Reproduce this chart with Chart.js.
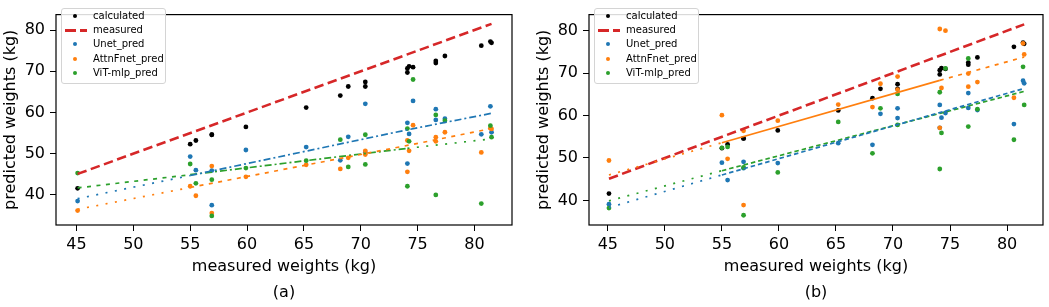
<!DOCTYPE html>
<html><head><meta charset="utf-8">
<script src="https://cdn.jsdelivr.net/npm/chart.js@4/dist/chart.umd.min.js"></script>
<style>
html,body{margin:0;padding:0;background:#fff}
body{width:1049px;height:307px;overflow:hidden;position:relative;font-family:"DejaVu Sans",sans-serif}
canvas{position:absolute;top:0}
#ca{left:0}
#cb{left:525px}
.legend{position:absolute;width:105px;height:76px;border:1px solid #d4d4d4;border-radius:3px;background:rgba(255,255,255,0.85);box-sizing:border-box;font:10px "DejaVu Sans",sans-serif;color:#000}
.row{position:absolute;left:31px;height:14px;line-height:14px;white-space:nowrap}
.dot{position:absolute;left:-20px;top:5px;width:4px;height:4px;border-radius:50%}
.dsh{position:absolute;top:6px;height:2.6px;background:#d62728}
</style></head>
<body>
<canvas id="ca" width="525" height="307"></canvas>
<canvas id="cb" width="524" height="307"></canvas>
<div class="legend" style="left:61px;top:8px">
 <div class="row" style="top:0px"><span class="dot" style="background:#000"></span>calculated</div>
 <div class="row" style="top:14px"><span class="dsh" style="left:-28px;width:11px"></span><span class="dsh" style="left:-13px;width:7px"></span>measured</div>
 <div class="row" style="top:28px"><span class="dot" style="background:#1f77b4"></span>Unet_pred</div>
 <div class="row" style="top:43px"><span class="dot" style="background:#ff7f0e"></span>AttnFnet_pred</div>
 <div class="row" style="top:57px"><span class="dot" style="background:#2ca02c"></span>ViT-mlp_pred</div>
</div>
<div class="legend" style="left:594px;top:8px">
 <div class="row" style="top:0px"><span class="dot" style="background:#000"></span>calculated</div>
 <div class="row" style="top:14px"><span class="dsh" style="left:-28px;width:11px"></span><span class="dsh" style="left:-13px;width:7px"></span>measured</div>
 <div class="row" style="top:28px"><span class="dot" style="background:#1f77b4"></span>Unet_pred</div>
 <div class="row" style="top:43px"><span class="dot" style="background:#ff7f0e"></span>AttnFnet_pred</div>
 <div class="row" style="top:57px"><span class="dot" style="background:#2ca02c"></span>ViT-mlp_pred</div>
</div>
<script>
// ---- data ----
const measured   = [45.1, 55.0, 55.5, 56.9, 56.9, 59.9, 65.2, 68.2, 68.9, 70.4, 70.4, 74.1, 74.1, 74.25, 74.6, 76.6, 76.6, 77.4, 80.6, 81.4, 81.5];
const calculated = [41.6, 52.3, 53.2, 54.6, 54.6, 56.5, 61.2, 64.1, 66.3, 66.3, 67.4, 69.7, 70.7, 71.2, 71.0, 72.5, 72.0, 73.7, 76.2, 77.2, 76.9];

const unetA = [38.5, 49.3, 46.0, 45.9, 37.5, 50.9, 51.6, 48.4, 54.1, 62.1, 50.3, 57.5, 47.6, 54.8, 62.8, 60.8, 58.2, 58.5, 54.7, 61.5, 55.2];
const attnA = [36.2, 42.1, 39.8, 47.0, 35.6, 44.4, 47.3, 46.3, 49.0, 50.7, 49.8, 53.2, 45.6, 50.7, 56.9, 53.0, 54.0, 55.2, 50.3, 56.2, 56.0];
const vitA  = [45.3, 47.5, 42.8, 43.7, 34.9, 46.5, 48.3, 53.4, 46.8, 54.6, 47.4, 56.1, 42.1, 53.0, 68.0, 59.4, 40.0, 58.0, 37.9, 56.8, 54.0];

const unetB = [39.1, 48.9, 44.8, 49.1, 47.6, 48.8, 53.5, 53.1, 60.4, 61.7, 59.4, 62.5, 57.1, 59.5, 60.6, 65.3, 61.8, 61.3, 58.0, 68.2, 67.6];
const attnB = [49.4, 60.1, 49.8, 56.4, 38.9, 58.8, 62.6, 62.0, 67.5, 69.2, 66.1, 80.4, 57.1, 66.5, 80.0, 69.9, 66.8, 67.9, 64.2, 77.0, 74.4];
const vitB  = [38.2, 52.4, 52.6, 47.75, 36.5, 46.6, 58.5, 51.1, 61.7, 65.1, 57.8, 65.5, 47.4, 55.9, 71.1, 73.45, 57.4, 61.5, 54.3, 71.5, 62.5];

// identity (measured) line endpoints
const idLine = [45.1, 81.5];

// fitted trend lines, read at these x positions
const fitX = [45.1, 55.0, 74.1, 81.5];
const fitUnetA = [39.1, 44.7, 55.8, 59.8];
const fitAttnA = [36.5, 41.8, 52.0, 56.1];
const fitVitA  = [41.7, 44.9, 51.3, 53.6];
const fitUnetB = [38.3, 46.0, 60.7, 66.4];
const fitAttnB = [46.0, 53.6, 68.3, 73.8];
const fitVitB  = [39.9, 47.0, 60.5, 65.7];

const xTicks = [45, 50, 55, 60, 65, 70, 75, 80];
const yTicks = [40, 50, 60, 70, 80];
const panelLabels = ['(a)', '(b)'];

// ---- styling ----
const C = {black:'#000000', red:'#d62728', blue:'#1f77b4', orange:'#ff7f0e', green:'#2ca02c'};
const DOT = [2, 7.5], DASH = [4, 5.5], DASHDOT = [7, 3, 2, 3], SOLID = [], DASHB = [4.5, 3];

Chart.defaults.font.family = '"DejaVu Sans", sans-serif';
Chart.defaults.color = '#000';

const pts = (xs, ys) => xs.map((x, i) => ({x, y: ys[i]}));

function scatterDs(ys, color){
  return {type:'scatter', data: pts(measured, ys), backgroundColor: color, borderWidth: 0, pointRadius: 2.4, pointHoverRadius: 2.4};
}
function fitDs(ys, color, styles){
  return {type:'line', data: pts(fitX, ys), borderColor: color, borderWidth: 1.7, pointRadius: 0, fill:false, tension:0,
    segment: {borderDash: ctx => styles[ctx.p0DataIndex]}};
}

const frame = {id:'frame', afterDatasetsDraw(c){
  const a = c.chartArea, g = c.ctx;
  g.save(); g.strokeStyle = '#000'; g.lineWidth = 1.2;
  g.strokeRect(a.left, a.top, a.right - a.left, a.bottom - a.top);
  g.restore();
}};

function makePanel(id, p){
  const datasets = [
    fitDs(p.fits[0], C.blue, p.styles[0]),
    fitDs(p.fits[1], C.orange, p.styles[1]),
    fitDs(p.fits[2], C.green, p.styles[2]),
    {type:'line', data: pts(idLine, idLine), borderColor: C.red, borderWidth: 2.6, borderDash:[9.5, 4.5], pointRadius: 0, fill:false},
    scatterDs(p.vit, C.green),
    scatterDs(p.attn, C.orange),
    scatterDs(p.unet, C.blue),
    scatterDs(calculated, C.black)
  ];
  return new Chart(document.getElementById(id), {
    type: 'scatter',
    data: {datasets},
    plugins: [frame],
    options: {
      responsive: false, animation: false, devicePixelRatio: 1,
      layout: {padding: {left: 0, top: 3, right: p.padRight, bottom: 0}},
      plugins: {legend: {display: false}, tooltip: {enabled: false}},
      scales: {
        x: {
          type: 'linear', min: p.xmin, max: p.xmax,
          afterBuildTicks: s => { s.ticks = xTicks.map(v => ({value: v})); },
          afterFit: s => { s.height = 82; },
          grid: {drawOnChartArea: false, drawTicks: true, tickLength: 6, color: '#000', lineWidth: 1},
          border: {display: false},
          ticks: {font: {size: 16}, padding: 4, color: '#000', maxRotation: 0, autoSkip: false},
          title: {display: true, text: ['measured weights (kg)', p.label], font: {size: 16, lineHeight: 1.625}, padding: {top: 0, bottom: 1}, color: '#000'}
        },
        y: {
          type: 'linear', min: p.ymin, max: p.ymax,
          afterBuildTicks: s => { s.ticks = yTicks.map(v => ({value: v})); },
          afterFit: s => { s.width = p.yWidth; },
          grid: {drawOnChartArea: false, drawTicks: true, tickLength: 6, color: '#000', lineWidth: 1},
          border: {display: false},
          ticks: {font: {size: 16}, padding: 5, color: '#000', autoSkip: false},
          title: {display: true, text: 'predicted weights (kg)', font: {size: 16, lineHeight: 1.2}, padding: {top: p.yTitlePad, bottom: 0}, color: '#000'}
        }
      }
    }
  });
}

makePanel('ca', {
  unet: unetA, attn: attnA, vit: vitA,
  fits: [fitUnetA, fitAttnA, fitVitA],
  styles: [[DOT, DASHDOT, DASHDOT], [DOT, DASH, DASH], [DASH, DASHDOT, DOT]],
  xmin: 43.2, xmax: 83.3, ymin: 32.7, ymax: 83.75,
  padRight: 13, yWidth: 56, yTitlePad: 1, label: panelLabels[0]
});
makePanel('cb', {
  unet: unetB, attn: attnB, vit: vitB,
  fits: [fitUnetB, fitAttnB, fitVitB],
  styles: [[DOT, DASHB, DASHB], [DOT, SOLID, DASH], [DOT, DASHB, DASHB]],
  xmin: 43.35, xmax: 83.15, ymin: 34.2, ymax: 83.8,
  padRight: 6, yWidth: 64, yTitlePad: 9.4, label: panelLabels[1]
});
</script>
</body></html>
